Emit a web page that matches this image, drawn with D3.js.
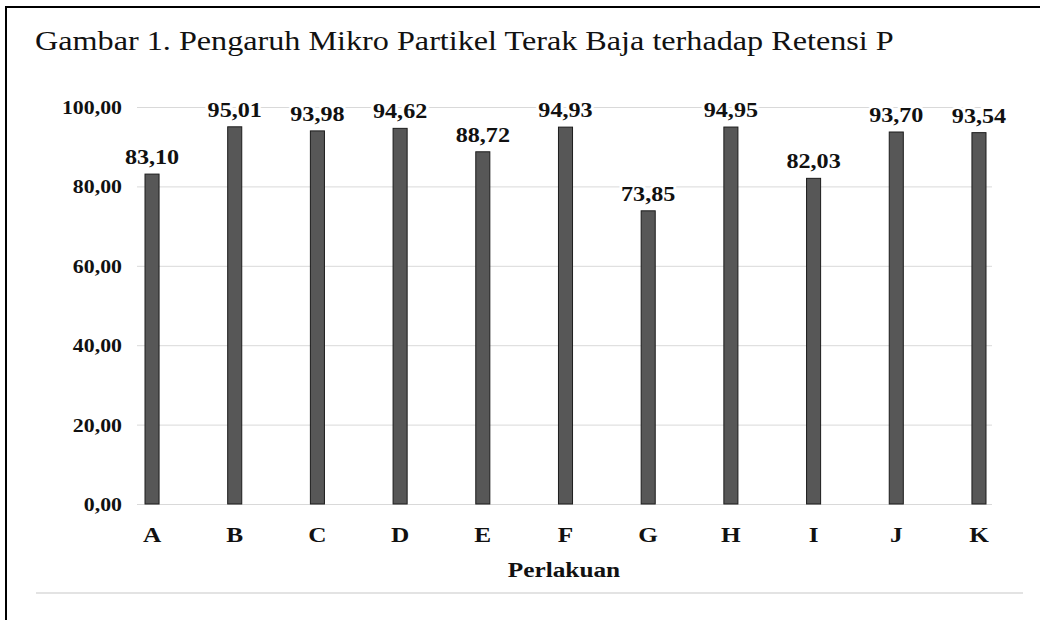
<!DOCTYPE html>
<html>
<head>
<meta charset="utf-8">
<script src="https://cdn.jsdelivr.net/npm/d3@7"></script>
<style>
  body { margin: 0; background: #fff; }
  svg { display: block; }
  .axis text { font-family: "Liberation Serif", "Times New Roman", serif; font-weight: bold; fill: #111; }
  .grid line { stroke: #d9d9d9; }
  .bar { fill: #575757; stroke: #1c1c1c; stroke-width: 1; }
  .value-label { font-family: "Liberation Serif", "Times New Roman", serif; font-weight: bold; font-size: 21px; fill: #111;
    stroke: #fff; stroke-width: 5px; paint-order: stroke; }
</style>
</head>
<body>
<svg id="chart"></svg>
<script>
// chart data
const categories = ['A', 'B', 'C', 'D', 'E', 'F', 'G', 'H', 'I', 'J', 'K'];
const retensiP = [83.10, 95.01, 93.98, 94.62, 88.72, 94.93, 73.85, 94.95, 82.03, 93.70, 93.54];
const yTicks = [0, 20, 40, 60, 80, 100];
const chartTitle = 'Gambar 1. Pengaruh Mikro Partikel Terak Baja terhadap Retensi P';
const xAxisTitle = 'Perlakuan';

class BarChart {

    constructor(_config) {
        this.config = {
            parentElement: _config.parentElement,
            width: 1040,
            height: 620,
            gridLeft: 137,
            gridRight: 992,
            barLeft: 145,
            barRight: 986,
            yTop: 107,
            yBottom: 504,
            stretch: 1.15   // the source picture is a little wider than tall
        };
        this.initVis();
    }

    initVis() {
        let vis = this;
        const c = vis.config;

        vis.svg = d3.select(c.parentElement)
            .attr('width', c.width)
            .attr('height', c.height);

        // frame of the figure (only top and left edges are visible)
        vis.svg.append('path')
            .attr('d', `M6,${c.height} V7 H${c.width}`)
            .attr('fill', 'none')
            .attr('stroke', '#000')
            .attr('stroke-width', 2);

        vis.svg.append('text')
            .attr('transform', `translate(35,50) scale(${c.stretch},1)`)
            .attr('font-family', '"Liberation Serif", "Times New Roman", serif')
            .attr('font-size', 28)
            .attr('fill', '#111')
            .text(chartTitle);

        // bottom separator
        vis.svg.append('line')
            .attr('x1', 36).attr('x2', 1023)
            .attr('y1', 593).attr('y2', 593)
            .attr('stroke', '#e3e3e3')
            .attr('stroke-width', 2);

        vis.xScale = d3.scaleBand()
            .range([c.barLeft, c.barRight])
            .paddingInner(0.83)
            .paddingOuter(0);

        vis.yScale = d3.scaleLinear()
            .range([c.yBottom, c.yTop]);

        vis.yAxis = d3.axisLeft(vis.yScale)
            .tickValues(yTicks)
            .tickSize(-(c.gridRight - c.gridLeft))
            .tickFormat(d => d3.format('.2f')(d).replace('.', ','));

        vis.xAxis = d3.axisBottom(vis.xScale)
            .tickSize(0);

        vis.yAxisG = vis.svg.append('g')
            .attr('class', 'axis grid')
            .attr('transform', `translate(${c.gridLeft},0)`);

        vis.xAxisG = vis.svg.append('g')
            .attr('class', 'axis x-axis')
            .attr('transform', `translate(0,${c.yBottom})`);

        vis.barsG = vis.svg.append('g');
        vis.labelsG = vis.svg.append('g');

        vis.svg.append('text')
            .attr('transform', `translate(564,577) scale(${c.stretch},1)`)
            .attr('text-anchor', 'middle')
            .attr('font-family', '"Liberation Serif", "Times New Roman", serif')
            .attr('font-weight', 'bold')
            .attr('font-size', 22)
            .attr('fill', '#111')
            .text(xAxisTitle);

        vis.updateVis();
    }

    updateVis() {
        let vis = this;
        vis.data = categories.map((k, i) => ({key: k, value: retensiP[i]}));

        vis.xScale.domain(categories);
        vis.yScale.domain([0, 100]);

        vis.renderVis();
    }

    renderVis() {
        let vis = this;
        const c = vis.config;

        vis.yAxisG.call(vis.yAxis);
        vis.yAxisG.select('.domain').remove();
        vis.yAxisG.selectAll('text')
            .attr('x', 0)
            .attr('dy', '0.34em')
            .attr('font-size', 19)
            .attr('transform', `translate(-15,0) scale(${c.stretch},1)`);

        vis.xAxisG.call(vis.xAxis);
        vis.xAxisG.select('.domain').remove();
        vis.xAxisG.selectAll('text')
            .attr('y', 0)
            .attr('dy', 0)
            .attr('font-size', 22)
            .attr('transform', `translate(0,38) scale(${c.stretch},1)`);

        vis.barsG.selectAll('.bar')
            .data(vis.data)
            .join('rect')
            .attr('class', 'bar')
            .attr('x', d => vis.xScale(d.key))
            .attr('width', vis.xScale.bandwidth())
            .attr('y', d => vis.yScale(d.value))
            .attr('height', d => c.yBottom - vis.yScale(d.value));

        vis.labelsG.selectAll('.value-label')
            .data(vis.data)
            .join('text')
            .attr('class', 'value-label')
            .attr('text-anchor', 'middle')
            .attr('transform', d => `translate(${vis.xScale(d.key) + vis.xScale.bandwidth() / 2},${vis.yScale(d.value) - 10}) scale(${c.stretch},1)`)
            .text(d => d3.format('.2f')(d.value).replace('.', ','));
    }
}

new BarChart({parentElement: '#chart'});
</script>
</body>
</html>
